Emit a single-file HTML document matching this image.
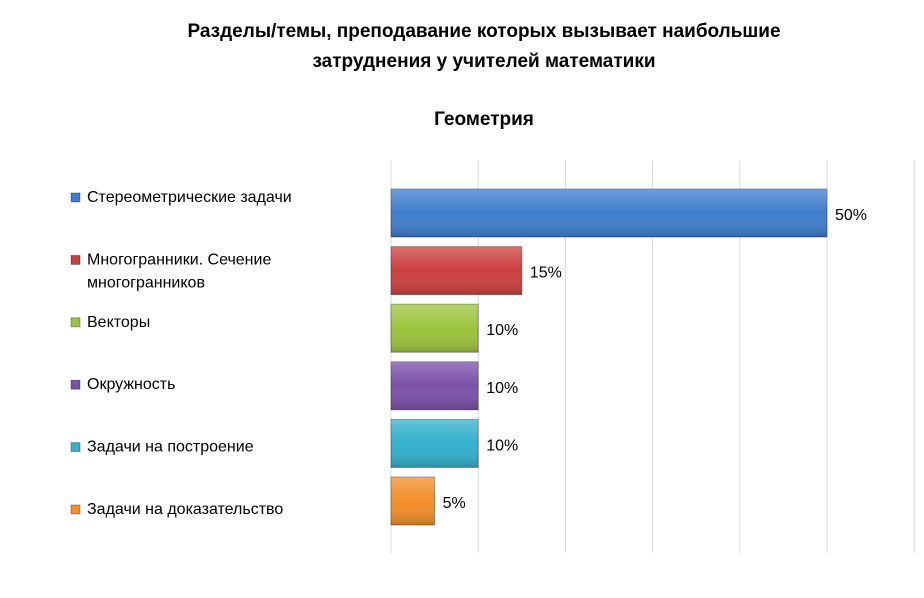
<!DOCTYPE html>
<html><head><meta charset="utf-8"><style>
body{margin:0;background:#fff;}
svg{display:block;font-family:"Liberation Sans","DejaVu Sans",sans-serif;}
</style></head><body>
<svg id="chart" width="924" height="598" viewBox="0 0 924 598" xmlns="http://www.w3.org/2000/svg">
<defs>
<linearGradient id="sh" x1="0" y1="0" x2="0" y2="1"><stop offset="0" stop-color="#fff" stop-opacity="0.25"/><stop offset="0.5" stop-color="#fff" stop-opacity="0"/><stop offset="1" stop-color="#000" stop-opacity="0.18"/></linearGradient>
</defs>
<text x="484" y="37" text-anchor="middle" font-size="19" font-weight="bold" fill="#000">Разделы/темы, преподавание которых вызывает наибольшие</text>
<text x="484" y="67" text-anchor="middle" font-size="19" font-weight="bold" fill="#000">затруднения у учителей математики</text>
<text x="484" y="125" text-anchor="middle" font-size="19" font-weight="bold" fill="#000">Геометрия</text>
<g id="grid"></g><g id="bars"></g><g id="legend"></g>
</svg>
<script>
const categories=["Стереометрические задачи","Многогранники. Сечение|многогранников","Векторы","Окружность","Задачи на построение","Задачи на доказательство"];
const values=[50,15,10,10,10,5];
const valueLabels=["50%","15%","10%","10%","10%","5%"];
const gridTicks=[0,10,20,30,40,50,60];
const colors=["#3f7dcc","#cc3f3f","#9bc43c","#7a50a8","#33b0cc","#f28e2a"];
const ns="http://www.w3.org/2000/svg";
const x0=391,pxPer=8.72,top0=189,step=57.6,bh=48;
const xs=v=>x0+v*pxPer;
function mk(t,a,p){const e=document.createElementNS(ns,t);for(const k in a)e.setAttribute(k,a[k]);p.appendChild(e);return e;}
const g=document.getElementById('grid'),b=document.getElementById('bars'),l=document.getElementById('legend');
gridTicks.forEach(t=>{const e=mk('line',{x1:xs(t),x2:xs(t),y1:160,y2:553,stroke:'#d9d9d9','stroke-width':1},g);

});
values.forEach((v,i)=>{const y=top0+i*step;
const r=mk('rect',{x:x0,y:y,width:v*pxPer,height:bh,fill:colors[i],stroke:'rgba(0,0,0,0.35)','stroke-width':1},b);


mk('rect',{x:x0,y:y,width:v*pxPer,height:bh,fill:'url(#sh)'},b);
const t=mk('text',{x:xs(v)+8,y:y+bh/2+7,'font-size':16,fill:'#000'},b);t.textContent=valueLabels[i];


const ly=202+i*62.4;
const m=mk('rect',{x:71,y:ly-9,width:9,height:9,fill:colors[i],stroke:'rgba(0,0,0,0.3)'},l);


const lines=categories[i].split('|');
lines.forEach((s,j)=>{const tt=mk('text',{x:87,y:ly+j*23,'font-size':16,fill:'#000'},l);tt.textContent=s;

});
});
</script>
</body></html>
